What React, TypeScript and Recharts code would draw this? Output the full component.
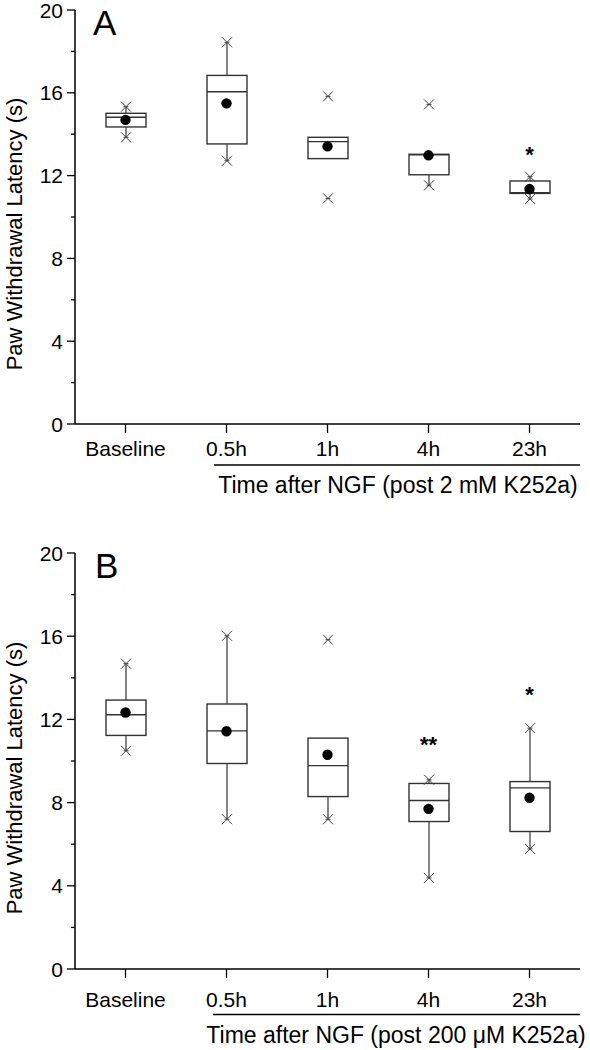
import { ComposedChart, Bar, Scatter, XAxis, YAxis } from 'recharts';

const FONT = '"Liberation Sans", Arial, sans-serif';

const CATEGORIES = ['Baseline', '0.5h', '1h', '4h', '23h'];
const Y_TICKS = [0, 2, 4, 6, 8, 10, 12, 14, 16, 18, 20];

// Panel A (post 2 mM K252a)
const A_MIN = [13.85, 12.72, 10.9, 11.53, 10.87];
const A_WLO = [13.85, 12.72, 12.82, 11.53, 10.87];
const A_Q1 = [14.35, 13.53, 12.82, 12.04, 11.14];
const A_MED = [14.82, 16.05, 13.64, 13.0, 11.17];
const A_Q3 = [15.01, 16.84, 13.85, 13.03, 11.74];
const A_WHI = [15.33, 18.44, 13.85, 13.03, 11.95];
const A_MAX = [15.33, 18.44, 15.83, 15.44, 11.95];
const A_MEAN = [14.69, 15.49, 13.41, 12.98, 11.35];
const A_SIG = ['', '', '', '', '*'];
const A_SIG_Y = [null, null, null, null, 13.24];

// Panel B (post 200 µM K252a)
const B_MIN = [10.49, 7.2, 7.2, 4.38, 5.77];
const B_WLO = [10.49, 7.2, 7.2, 4.38, 5.77];
const B_Q1 = [11.23, 9.88, 8.29, 7.09, 6.61];
const B_MED = [12.22, 11.45, 9.78, 8.1, 8.71];
const B_Q3 = [12.93, 12.74, 11.1, 8.92, 9.01];
const B_WHI = [14.68, 16.02, 11.1, 9.1, 11.58];
const B_MAX = [14.68, 16.02, 15.83, 9.1, 11.58];
const B_MEAN = [12.33, 11.43, 10.3, 7.7, 8.23];
const B_SIG = ['', '', '', '**', '*'];
const B_SIG_Y = [null, null, null, 11.02, 13.39];

const buildRows = (mn, wlo, q1, med, q3, whi, mx, mean, sig, sigY) =>
  CATEGORIES.map((name, i) => ({
    name,
    min: mn[i],
    wlo: wlo[i],
    q1: q1[i],
    med: med[i],
    q3: q3[i],
    whi: whi[i],
    max: mx[i],
    mean: mean[i],
    sig: sig[i],
    sigY: sigY[i],
  }));

const rowsA = buildRows(A_MIN, A_WLO, A_Q1, A_MED, A_Q3, A_WHI, A_MAX, A_MEAN, A_SIG, A_SIG_Y);
const rowsB = buildRows(B_MIN, B_WLO, B_Q1, B_MED, B_Q3, B_WHI, B_MAX, B_MEAN, B_SIG, B_SIG_Y);

const Cross = ({ cx, cy }: any) => (
  <g stroke="#444" strokeWidth={1}>
    <line x1={cx - 5} y1={cy - 5} x2={cx + 5} y2={cy + 5} />
    <line x1={cx - 5} y1={cy + 5} x2={cx + 5} y2={cy - 5} />
    <line x1={cx - 2.5} y1={cy} x2={cx + 2.5} y2={cy} />
  </g>
);

// bar spans [min, max]; everything else is placed with the same px/unit
const BoxShape = (props: any) => {
  const { x, y, width, height, payload } = props;
  if (!payload || height == null) return null;
  const top = Math.min(y, y + height);
  const h = Math.abs(height);
  const k = h / (payload.max - payload.min);
  const Y = (v: number) => top + (payload.max - v) * k;
  const cx = x + width / 2;
  return (
    <g>
      <line x1={cx} y1={Y(payload.whi)} x2={cx} y2={Y(payload.q3)} stroke="#222" strokeWidth={1.1} />
      <line x1={cx} y1={Y(payload.q1)} x2={cx} y2={Y(payload.wlo)} stroke="#222" strokeWidth={1.1} />
      <rect x={x} y={Y(payload.q3)} width={width} height={Y(payload.q1) - Y(payload.q3)} fill="none" stroke="#333" strokeWidth={1.4} />
      <line x1={x} y1={Y(payload.med)} x2={x + width} y2={Y(payload.med)} stroke="#333" strokeWidth={1.4} />
      <Cross cx={cx} cy={Y(payload.max)} />
      <Cross cx={cx} cy={Y(payload.min)} />
    </g>
  );
};

const MeanDot = (props: any) => {
  const { cx, cy } = props;
  if (cx == null || cy == null) return null;
  return <circle cx={cx} cy={cy} r={5.2} fill="#000" />;
};

const SigMark = (props: any) => {
  const { cx, cy, payload } = props;
  if (!payload || !payload.sig || cy == null || isNaN(cy)) return null;
  return (
    <text x={cx} y={cy + 12} textAnchor="middle" fontFamily={FONT} fontSize={22} fontWeight="bold" fill="#000">
      {payload.sig}
    </text>
  );
};

const YTick = (props: any) => {
  const { x, y, payload } = props;
  const major = payload.value % 4 === 0;
  return (
    <g>
      <line x1={x - (major ? 8 : 4)} y1={y} x2={x} y2={y} stroke="#000" strokeWidth={1.3} />
      {major && (
        <text x={x - 12} y={y + 7.5} textAnchor="end" fontFamily={FONT} fontSize={21} fill="#000">
          {payload.value}
        </text>
      )}
    </g>
  );
};

const makeXTick = (dy: number) => (props: any) => {
  const { x, y, payload } = props;
  return (
    <text x={x} y={y + dy} textAnchor="middle" fontFamily={FONT} fontSize={21} fill="#000">
      {payload.value}
    </text>
  );
};

const Panel = ({ rows, top, bottom, labelDy }: any) => (
  <ComposedChart width={590} height={525} data={rows} margin={{ top, right: 10, bottom, left: 0 }}>
    <XAxis
      dataKey="name"
      interval={0}
      height={30}
      tickSize={9}
      tickMargin={0}
      tick={makeXTick(labelDy)}
      axisLine={{ stroke: '#000', strokeWidth: 1.5 }}
      tickLine={{ stroke: '#000', strokeWidth: 1.3 }}
    />
    <YAxis
      type="number"
      domain={[0, 20]}
      ticks={Y_TICKS}
      interval={0}
      width={75}
      tickSize={0}
      tickMargin={0}
      tickLine={false}
      tick={YTick}
      axisLine={{ stroke: '#000', strokeWidth: 1.5 }}
      allowDataOverflow
    />
    <Bar dataKey={(d: any) => [d.min, d.max]} barSize={40} shape={BoxShape} isAnimationActive={false} />
    <Scatter dataKey="mean" shape={MeanDot} isAnimationActive={false} />
    <Scatter dataKey="sigY" shape={SigMark} isAnimationActive={false} />
  </ComposedChart>
);

export default function App() {
  return (
    <div style={{ position: 'absolute', left: 0, top: 0, width: 590, height: 1050, background: '#fff' }}>
      <div style={{ position: 'absolute', left: 0, top: 0 }}>
        <Panel rows={rowsA} top={10} bottom={71} labelDy={22.7} />
      </div>
      <div style={{ position: 'absolute', left: 0, top: 525 }}>
        <Panel rows={rowsB} top={28} bottom={51} labelDy={28.7} />
      </div>
      <svg width={590} height={1050} style={{ position: 'absolute', left: 0, top: 0, pointerEvents: 'none' }}>
        <g fontFamily={FONT} fill="#000">
          <text x={93} y={35} fontSize={35}>A</text>
          <text x={95} y={578} fontSize={35}>B</text>
          <text transform="translate(22,234) rotate(-90)" textAnchor="middle" fontSize={22}>
            Paw Withdrawal Latency (s)
          </text>
          <text transform="translate(22,778) rotate(-90)" textAnchor="middle" fontSize={22}>
            Paw Withdrawal Latency (s)
          </text>
          <text x={398} y={493} textAnchor="middle" fontSize={23}>Time after NGF (post 2 mM K252a)</text>
          <text x={396} y={1043} textAnchor="middle" fontSize={23}>Time after NGF (post 200 μM K252a)</text>
        </g>
        <line x1={214} y1={465} x2={580} y2={465} stroke="#000" strokeWidth={1.4} />
        <line x1={213} y1={1014.5} x2={580} y2={1014.5} stroke="#000" strokeWidth={1.4} />
      </svg>
    </div>
  );
}
